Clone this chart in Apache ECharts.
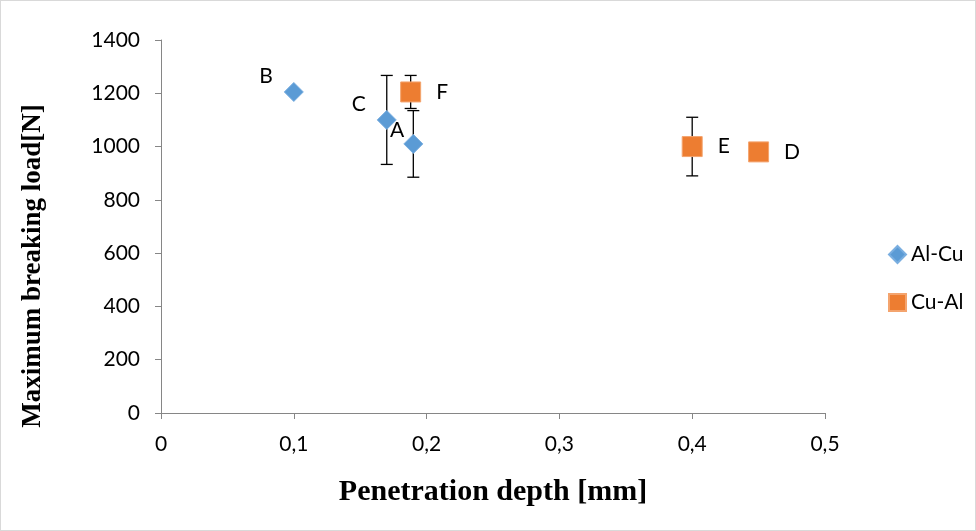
<!DOCTYPE html>
<html>
<head>
<meta charset="utf-8">
<script src="https://cdn.jsdelivr.net/npm/echarts@6/dist/echarts.min.js"></script>
<style>
  html, body { margin: 0; padding: 0; background: #fff; }
  #chart { width: 974px; height: 529px; border: 1px solid #d9d9d9; }
</style>
</head>
<body>
<div id="chart"></div>
<script>
// Al-Cu series
var alCuNames = ['A', 'B', 'C'];
var alCuX = [0.19, 0.1, 0.17];
var alCuY = [1010, 1205, 1100];
var alCuErr = [125, 0, 167];
// Cu-Al series
var cuAlNames = ['D', 'E', 'F'];
var cuAlX = [0.45, 0.4, 0.188];
var cuAlY = [980, 1000, 1205];
var cuAlErr = [0, 110, 62];

var yTitle = 'Maximum breaking load[N]';
var xTitle = 'Penetration depth [mm]';

// label placement per point letter
var labelPos = {
    A: { position: 'left', offset: [6, -14] },
    B: { position: 'left', offset: [-6, -16] },
    C: { position: 'left', offset: [-6, -16] },
    D: { position: 'right', offset: [10, 0] },
    E: { position: 'right', offset: [10, 0] },
    F: { position: 'right', offset: [10, 0] }
};

function points(names, xs, ys) {
    return names.map(function (n, i) {
        var p = labelPos[n];
        return {
            name: n,
            value: [xs[i], ys[i]],
            label: { show: true, formatter: n, position: p.position, offset: p.offset }
        };
    });
}

function errData(xs, ys, errs) {
    var out = [];
    for (var i = 0; i < xs.length; i++) {
        if (errs[i] > 0) out.push([xs[i], ys[i] - errs[i], ys[i] + errs[i]]);
    }
    return out;
}

function renderErr(params, api) {
    var lo = api.coord([api.value(0), api.value(1)]);
    var hi = api.coord([api.value(0), api.value(2)]);
    var w = 6;
    var st = { stroke: '#000', lineWidth: 1.3 };
    return {
        type: 'group',
        children: [
            { type: 'line', shape: { x1: lo[0], y1: lo[1], x2: hi[0], y2: hi[1] }, style: st },
            { type: 'line', shape: { x1: lo[0] - w, y1: lo[1], x2: lo[0] + w, y2: lo[1] }, style: st },
            { type: 'line', shape: { x1: hi[0] - w, y1: hi[1], x2: hi[0] + w, y2: hi[1] }, style: st }
        ]
    };
}

var tickFont = { fontFamily: 'Lato', fontSize: 21, color: '#000' };
var titleFont = { fontFamily: 'Liberation Serif', fontWeight: 'bold', fontSize: 30, color: '#000' };

var option = {
    animation: false,
    backgroundColor: '#fff',
    textStyle: { fontFamily: 'Lato' },
    grid: { left: 160, right: 150, top: 39, bottom: 117 },
    graphic: [{
        type: 'text',
        x: 32,
        y: 265,
        rotation: Math.PI / 2,
        style: { text: yTitle, textAlign: 'center', textVerticalAlign: 'middle', font: 'bold 27px "Liberation Serif"', fill: '#000' }
    }],
    legend: {
        orient: 'vertical',
        left: 882,
        top: 238,
        itemGap: 27,
        itemWidth: 17,
        itemHeight: 17,
        textStyle: { fontFamily: 'Lato', fontSize: 21, color: '#000' },
        data: ['Al-Cu', 'Cu-Al']
    },
    xAxis: {
        type: 'value',
        min: 0,
        max: 0.5,
        interval: 0.1,
        splitLine: { show: false },
        axisLine: { lineStyle: { color: '#868686' } },
        axisTick: { show: true, length: 6, lineStyle: { color: '#868686' } },
        axisLabel: Object.assign({ margin: 21, formatter: function (v) { return String(v).replace('.', ','); } }, tickFont),
        name: xTitle,
        nameLocation: 'middle',
        nameGap: 64,
        nameTextStyle: titleFont
    },
    yAxis: {
        type: 'value',
        min: 0,
        max: 1400,
        interval: 200,
        splitLine: { show: false },
        axisLine: { show: true, lineStyle: { color: '#868686' } },
        axisTick: { show: true, length: 6, lineStyle: { color: '#868686' } },
        axisLabel: Object.assign({ margin: 21, formatter: function (v) { return String(v); } }, tickFont)
    },
    series: [
        {
            name: 'err-alcu',
            type: 'custom',
            renderItem: renderErr,
            data: errData(alCuX, alCuY, alCuErr),
            z: 1
        },
        {
            name: 'err-cual',
            type: 'custom',
            renderItem: renderErr,
            data: errData(cuAlX, cuAlY, cuAlErr),
            z: 1
        },
        {
            name: 'Al-Cu',
            type: 'scatter',
            symbol: 'diamond',
            symbolSize: 19,
            itemStyle: { color: '#5B9BD5', opacity: 1, borderColor: '#79aee0', borderWidth: 1 },
            label: { fontFamily: 'Lato', fontSize: 21, color: '#000' },
            data: points(alCuNames, alCuX, alCuY),
            z: 3
        },
        {
            name: 'Cu-Al',
            type: 'scatter',
            symbol: 'rect',
            symbolSize: 20,
            itemStyle: { color: '#ED7D31', opacity: 1, borderColor: '#f4a46e', borderWidth: 1 },
            label: { fontFamily: 'Lato', fontSize: 21, color: '#000' },
            data: points(cuAlNames, cuAlX, cuAlY),
            z: 2
        }
    ]
};

var chart = echarts.init(document.getElementById('chart'));
chart.setOption(option);
</script>
</body>
</html>
